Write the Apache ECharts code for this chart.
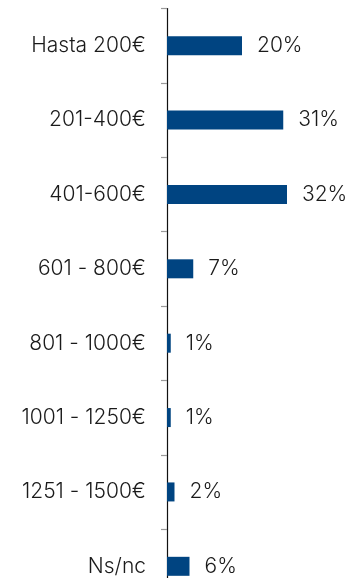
<!DOCTYPE html>
<html>
<head>
<meta charset="utf-8">
<style>
  html, body { margin: 0; padding: 0; background: #ffffff; }
  #chart { width: 351px; height: 578px; }
</style>
<script src="https://cdn.jsdelivr.net/npm/echarts@6/dist/echarts.min.js"></script>
</head>
<body>
<div id="chart"></div>
<script>
// Spending brackets and share of respondents (%)
const categories = ['Hasta 200€', '201-400€', '401-600€', '601 - 800€', '801 - 1000€', '1001 - 1250€', '1251 - 1500€', 'Ns/nc'];
const shares = [20, 31, 32, 7, 1, 1, 2, 6];

const chart = echarts.init(document.getElementById('chart'));
const FONT = 'Inter';

chart.setOption({
  animation: false,
  // the plot runs past the bottom edge, so the last row sits near the border
  grid: { left: 167, top: 8.5, width: 150, height: 595, outerBoundsMode: 'none', containLabel: false },
  xAxis: {
    type: 'value',
    min: 0,
    max: 40,
    show: false
  },
  yAxis: {
    type: 'category',
    inverse: true,
    data: categories,
    axisLine: { show: true, lineStyle: { color: '#111111', width: 1.2 } },
    axisTick: { show: true, length: 6, lineStyle: { color: '#9a9a9a', width: 1.2 } },
    axisLabel: { margin: 21, fontFamily: FONT, fontSize: 21, fontWeight: 300, color: '#1a1a1a' },
    splitLine: { show: false }
  },
  series: [{
    type: 'bar',
    data: shares,
    barWidth: 19,
    itemStyle: { color: '#004481' },
    label: {
      show: true,
      position: 'right',
      distance: 15,
      formatter: p => p.value + '%',
      fontFamily: FONT,
      fontSize: 21,
      fontWeight: 300,
      color: '#1a1a1a'
    }
  }]
});
</script>
</body>
</html>
